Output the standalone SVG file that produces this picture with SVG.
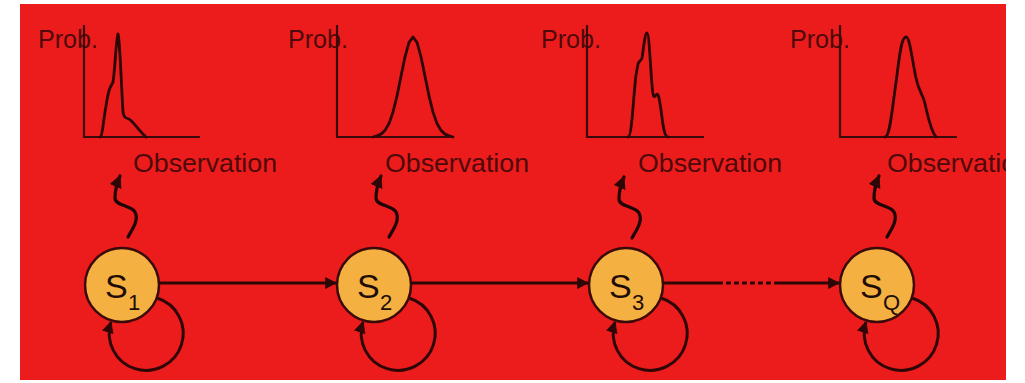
<svg xmlns="http://www.w3.org/2000/svg" width="1025" height="383" viewBox="0 0 1025 383">
<defs>
<style>
.ax{fill:none;stroke:#3a0a0a;stroke-width:2.2}
.cv{fill:none;stroke:#2e0606;stroke-width:2.8;stroke-linejoin:round;stroke-linecap:round}
.lbl{font-family:"Liberation Sans",Arial,sans-serif;font-size:25px;fill:#4e0a0a}
.node{fill:#f4b040;stroke:#3a0a0a;stroke-width:2.5}
.st{font-family:"Liberation Sans",Arial,sans-serif;fill:#1e0c06}
.edge{fill:none;stroke:#2e0606;stroke-width:3}
.wave{fill:none;stroke:#1e0404;stroke-width:3.2;stroke-linecap:round}
</style>
<marker id="ah" viewBox="0 0 10 10" refX="9" refY="5" markerWidth="4" markerHeight="4" orient="auto" markerUnits="strokeWidth">
<path d="M0,0 L10,5 L0,10 z" fill="#2e0606"/>
</marker>
<clipPath id="redclip"><rect x="20" y="4" width="986" height="376"/></clipPath>
</defs>
<rect x="0" y="0" width="1025" height="383" fill="#ffffff"/>
<rect x="20" y="4" width="986" height="376" fill="#ed1c1c"/>

<g id="charts" clip-path="url(#redclip)">
<g id="chart1">
<text class="lbl" x="38" y="48" textLength="60" lengthAdjust="spacingAndGlyphs">Prob.</text>
<path class="ax" d="M84,25 V137 H200"/>
<path class="cv" d="M100,137 C102,137 103,125 105,112 C107,100 108,92 110,88 L113,82 C115,70 116,40 118,34 C120,40 121,80 123,112 C124,118 126,118 129,119 C133,121 138,130 146,137"/>
<text class="lbl" x="133" y="172" textLength="144" lengthAdjust="spacingAndGlyphs">Observation</text>
</g>
<g id="chart2">
<text class="lbl" x="288" y="48" textLength="60" lengthAdjust="spacingAndGlyphs">Prob.</text>
<path class="ax" d="M337,25 V137 H453"/>
<polyline class="cv" points="373,137 377,135.9 381,134.1 385,130.4 389,123.5 393,112.1 397,95.9 401,76.3 405,56.9 409,42.4 413,37 417,42.4 421,56.9 425,76.3 429,95.9 433,112.1 437,123.5 441,130.4 445,134.1 449,135.9 453,137"/>
<text class="lbl" x="385" y="172" textLength="144" lengthAdjust="spacingAndGlyphs">Observation</text>
</g>
<g id="chart3">
<text class="lbl" x="541" y="48" textLength="60" lengthAdjust="spacingAndGlyphs">Prob.</text>
<path class="ax" d="M587,25 V137 H704"/>
<path class="cv" d="M628,137 C632,137 633,100 636,75 L638,64 C639,60 641,62 642,58 C644,45 645,33 647,33 C649,33 650,60 652,85 C653,98 654,98 656,95 C658,92 659,96 661,110 C663,125 664,137 668,137"/>
<text class="lbl" x="638" y="172" textLength="144" lengthAdjust="spacingAndGlyphs">Observation</text>
</g>
<g id="chart4">
<text class="lbl" x="790" y="48" textLength="60" lengthAdjust="spacingAndGlyphs">Prob.</text>
<path class="ax" d="M840,25 V137 H957"/>
<path class="cv" d="M885,137 C890,137 892,110 897,75 C900,50 902,37 906,37 C910,37 912,60 916,78 C918,88 921,92 924,100 C928,115 930,130 936,137"/>
<text class="lbl" x="887" y="172" textLength="144" lengthAdjust="spacingAndGlyphs">Observation</text>
</g>
</g>

<g id="connectors">
<path class="edge" d="M159,283 H336" marker-end="url(#ah)"/>
<path class="edge" d="M411,283 H588" marker-end="url(#ah)"/>
<path class="edge" d="M663,283 H718"/>
<path class="edge" d="M718,283 H778" stroke-dasharray="5,3"/>
<path class="edge" d="M778,283 H839" marker-end="url(#ah)"/>
<path class="edge" d="M157,298 A37,37 0 1 1 111,322" marker-end="url(#ah)"/>
<path class="edge" d="M409,298 A37,37 0 1 1 363,322" marker-end="url(#ah)"/>
<path class="edge" d="M661,298 A37,37 0 1 1 615,322" marker-end="url(#ah)"/>
<path class="edge" d="M912,298 A37,37 0 1 1 866,322" marker-end="url(#ah)"/>
<path class="wave" transform="translate(128,237)" d="M0,0 C5,-9 11,-17 7,-25 C3,-32 -13,-31 -13,-39 C-13,-47 -11,-54 -8,-61" marker-end="url(#ah)"/>
<path class="wave" transform="translate(389,237)" d="M0,0 C5,-9 11,-17 7,-25 C3,-32 -13,-31 -13,-39 C-13,-47 -11,-54 -8,-61" marker-end="url(#ah)"/>
<path class="wave" transform="translate(632,238)" d="M0,0 C5,-9 11,-17 7,-25 C3,-32 -13,-31 -13,-39 C-13,-47 -11,-54 -8,-61" marker-end="url(#ah)"/>
<path class="wave" transform="translate(887,237)" d="M0,0 C5,-9 11,-17 7,-25 C3,-32 -13,-31 -13,-39 C-13,-47 -11,-54 -8,-61" marker-end="url(#ah)"/>
</g>

<g id="S1">
<circle class="node" cx="122" cy="285" r="37"/>
<text class="st" x="105" y="298" font-size="34">S</text>
<text class="st" x="128" y="310" font-size="22">1</text>
</g>
<g id="S2">
<circle class="node" cx="374" cy="285" r="37"/>
<text class="st" x="357" y="298" font-size="34">S</text>
<text class="st" x="380" y="310" font-size="22">2</text>
</g>
<g id="S3">
<circle class="node" cx="626" cy="285" r="37"/>
<text class="st" x="609" y="298" font-size="34">S</text>
<text class="st" x="632" y="310" font-size="22">3</text>
</g>
<g id="SQ">
<circle class="node" cx="877" cy="285" r="37"/>
<text class="st" x="860" y="298" font-size="34">S</text>
<text class="st" x="883" y="310" font-size="22">Q</text>
</g>
</svg>
